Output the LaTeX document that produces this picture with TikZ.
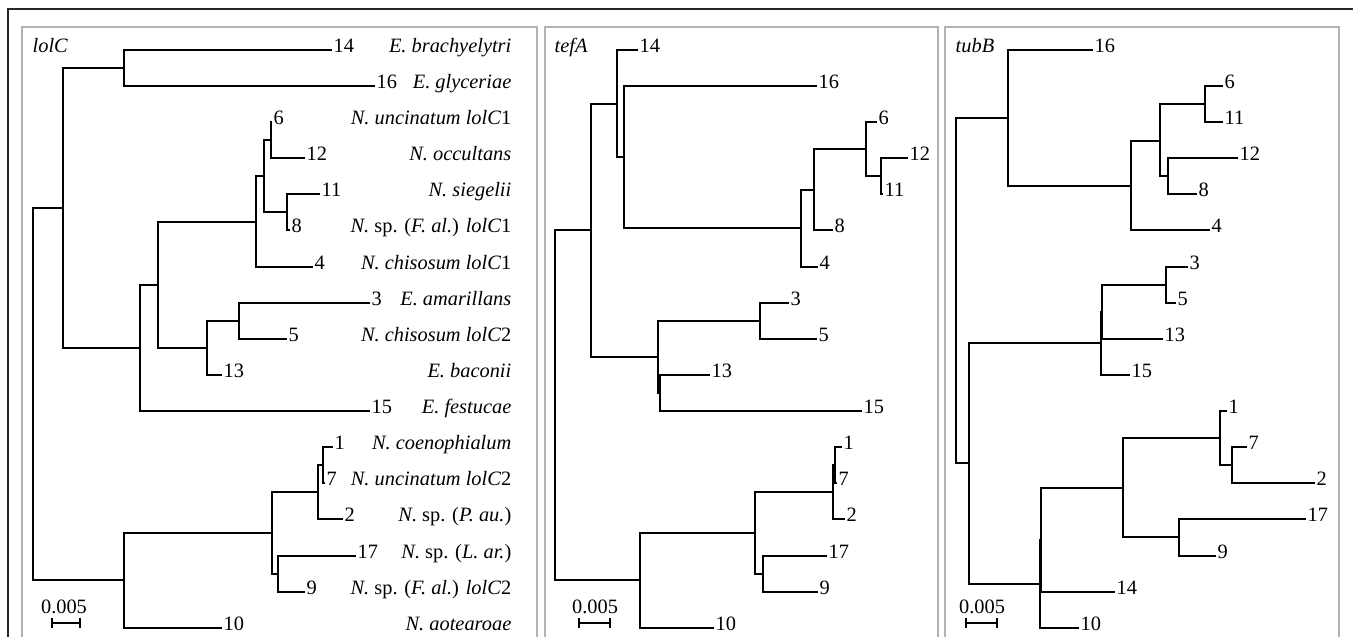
\documentclass[tikz,border=0pt]{standalone}
\usepackage{fontspec}
\setmainfont{Liberation Serif}
\usetikzlibrary{arrows.meta}
\tikzset{
  ramo/.style={line width=1.3pt},
  num/.style={anchor=west, inner sep=1pt, text height=0.68em, text depth=0.26em},
  especie/.style={anchor=east, inner sep=1pt, text height=0.68em, text depth=0.26em},
  titulo/.style={anchor=west, inner sep=1pt, text height=0.68em, text depth=0.26em},
  escala/.style={{Bar[width=7pt]}-{Bar[width=7pt]}, line width=1.2pt},
  rotulo/.style={anchor=base, inner sep=1pt},
  painel/.style={draw=gray!60, line width=1.1pt},
  moldura/.style={draw=black!85, line width=0.8pt},
}

\begin{document}
\begin{tikzpicture}[x=0.025cm, y=-0.025cm, font=\fontsize{14.5}{16}\selectfont]
  \useasboundingbox (0,0) rectangle (1353,637);
  % molduras
  \draw[moldura] (8,637) -- (8,9) -- (1353,9);
  \draw[painel] (22,637) -- (22,27) -- (537,27) -- (537,637);
  \draw[painel] (545,637) -- (545,27) -- (938,27) -- (938,637);
  \draw[painel] (945,637) -- (945,27) -- (1339,27) -- (1339,637);

  % ---- lolC ----
  \node[titulo] (tlol) at (31,50) {\textit{lolC}};
  \coordinate (lraiz) at (33,394);
  \coordinate (lA) at (63,208);
  \coordinate (lB) at (124,580);
  \coordinate (lC) at (124,68);
  \coordinate (lD) at (140,348);
  \coordinate (lE) at (158,285);
  \coordinate (lF) at (256,222);
  \coordinate (lG) at (264,176);
  \coordinate (lH) at (271,140);
  \coordinate (lI) at (287,212);
  \coordinate (lJ) at (207,348);
  \coordinate (lK) at (239,321);
  \coordinate (lL) at (272,533);
  \coordinate (lM) at (318,492);
  \coordinate (lN) at (323,465);
  \coordinate (lO) at (278,574);
  \node[num] (l14) at (332,50) {14};
  \node[num] (l16) at (375,86) {16};
  \node[num] (l6) at (272,122) {6};
  \node[num] (l12) at (305,158) {12};
  \node[num] (l11) at (320,194) {11};
  \node[num] (l8) at (290,230) {8};
  \node[num] (l4) at (313,267) {4};
  \node[num] (l3) at (370,303) {3};
  \node[num] (l5) at (287,339) {5};
  \node[num] (l13) at (222,375) {13};
  \node[num] (l15) at (370,411) {15};
  \node[num] (l1) at (333,447) {1};
  \node[num] (l7) at (325,483) {7};
  \node[num] (l2) at (343,519) {2};
  \node[num] (l17) at (356,556) {17};
  \node[num] (l9) at (305,592) {9};
  \node[num] (l10) at (222,628) {10};
  \draw[ramo] (lraiz) |- (lA); \draw[ramo] (lraiz) |- (lB);
  \draw[ramo] (lA) |- (lC); \draw[ramo] (lA) |- (lD);
  \draw[ramo] (lC) |- (l14); \draw[ramo] (lC) |- (l16);
  \draw[ramo] (lD) |- (lE); \draw[ramo] (lD) |- (l15);
  \draw[ramo] (lE) |- (lF); \draw[ramo] (lE) |- (lJ);
  \draw[ramo] (lF) |- (lG); \draw[ramo] (lF) |- (l4);
  \draw[ramo] (lG) |- (lH); \draw[ramo] (lG) |- (lI);
  \draw[ramo] (lH) |- (l6); \draw[ramo] (lH) |- (l12);
  \draw[ramo] (lI) |- (l11); \draw[ramo] (lI) |- (l8);
  \draw[ramo] (lJ) |- (lK); \draw[ramo] (lJ) |- (l13);
  \draw[ramo] (lK) |- (l3); \draw[ramo] (lK) |- (l5);
  \draw[ramo] (lB) |- (lL); \draw[ramo] (lB) |- (l10);
  \draw[ramo] (lL) |- (lM); \draw[ramo] (lL) |- (lO);
  \draw[ramo] (lM) |- (lN); \draw[ramo] (lM) |- (l2);
  \draw[ramo] (lN) |- (l1); \draw[ramo] (lN) |- (l7);
  \draw[ramo] (lO) |- (l17); \draw[ramo] (lO) |- (l9);
  % especies
  \node[especie] (e1) at (513,50) {\textit{E. brachyelytri}};
  \node[especie] (e2) at (513,86) {\textit{E. glyceriae}};
  \node[especie] (e3) at (513,122) {\textit{N. uncinatum lolC}1};
  \node[especie] (e4) at (513,158) {\textit{N. occultans}};
  \node[especie] (e5) at (513,194) {\textit{N. siegelii}};
  \node[especie] (e6) at (513,230) {\textit{N.} sp. (\textit{F. al.}) \textit{lolC}1};
  \node[especie] (e7) at (513,267) {\textit{N. chisosum lolC}1};
  \node[especie] (e8) at (513,303) {\textit{E. amarillans}};
  \node[especie] (e9) at (513,339) {\textit{N. chisosum lolC}2};
  \node[especie] (e10) at (513,375) {\textit{E. baconii}};
  \node[especie] (e11) at (513,411) {\textit{E. festucae}};
  \node[especie] (e12) at (513,447) {\textit{N. coenophialum}};
  \node[especie] (e13) at (513,483) {\textit{N. uncinatum lolC}2};
  \node[especie] (e14) at (513,519) {\textit{N.} sp. (\textit{P. au.})};
  \node[especie] (e15) at (513,556) {\textit{N.} sp. (\textit{L. ar.})};
  \node[especie] (e16) at (513,592) {\textit{N.} sp. (\textit{F. al.}) \textit{lolC}2};
  \node[especie] (e17) at (513,628) {\textit{N. aotearoae}};
  \coordinate (le1) at (51,623);
  \coordinate (le2) at (81,623);
  \draw[escala] (le1) -- (le2);
  \node[rotulo] (lesc) at (64,613) {0.005};

  % ---- tefA ----
  \node[titulo] (ttef) at (553,50) {\textit{tefA}};
  \coordinate (traiz) at (555,405);
  \coordinate (tA) at (591,230);
  \coordinate (tB) at (640,580);
  \coordinate (tC) at (617,104);
  \coordinate (tD) at (624,157);
  \coordinate (tE) at (801,228);
  \coordinate (tF) at (814,190);
  \coordinate (tG) at (866,149);
  \coordinate (tH) at (881,176);
  \coordinate (tI) at (658,357);
  \coordinate (tJ) at (660,393);
  \coordinate (tK) at (760,321);
  \coordinate (tL) at (755,533);
  \coordinate (tM) at (833,492);
  \coordinate (tN) at (835,465);
  \coordinate (tO) at (763,574);
  \node[num] (t14) at (638,50) {14};
  \node[num] (t16) at (817,86) {16};
  \node[num] (t6) at (877,122) {6};
  \node[num] (t12) at (908,158) {12};
  \node[num] (t11) at (883,194) {11};
  \node[num] (t8) at (833,230) {8};
  \node[num] (t4) at (818,267) {4};
  \node[num] (t3) at (789,303) {3};
  \node[num] (t5) at (817,339) {5};
  \node[num] (t13) at (710,375) {13};
  \node[num] (t15) at (862,411) {15};
  \node[num] (t1) at (842,447) {1};
  \node[num] (t7) at (837,483) {7};
  \node[num] (t2) at (845,519) {2};
  \node[num] (t17) at (827,556) {17};
  \node[num] (t9) at (818,592) {9};
  \node[num] (t10) at (714,628) {10};
  \draw[ramo] (traiz) |- (tA); \draw[ramo] (traiz) |- (tB);
  \draw[ramo] (tA) |- (tC); \draw[ramo] (tA) |- (tI);
  \draw[ramo] (tC) |- (t14); \draw[ramo] (tC) |- (tD);
  \draw[ramo] (tD) |- (t16); \draw[ramo] (tD) |- (tE);
  \draw[ramo] (tE) |- (tF); \draw[ramo] (tE) |- (t4);
  \draw[ramo] (tF) |- (tG); \draw[ramo] (tF) |- (t8);
  \draw[ramo] (tG) |- (t6); \draw[ramo] (tG) |- (tH);
  \draw[ramo] (tH) |- (t12); \draw[ramo] (tH) |- (t11);
  \draw[ramo] (tI) |- (tK); \draw[ramo] (tI) |- (tJ);
  \draw[ramo] (tK) |- (t3); \draw[ramo] (tK) |- (t5);
  \draw[ramo] (tJ) |- (t13); \draw[ramo] (tJ) |- (t15);
  \draw[ramo] (tB) |- (tL); \draw[ramo] (tB) |- (t10);
  \draw[ramo] (tL) |- (tM); \draw[ramo] (tL) |- (tO);
  \draw[ramo] (tM) |- (tN); \draw[ramo] (tM) |- (t2);
  \draw[ramo] (tN) |- (t1); \draw[ramo] (tN) |- (t7);
  \draw[ramo] (tO) |- (t17); \draw[ramo] (tO) |- (t9);
  \coordinate (te1) at (578,623);
  \coordinate (te2) at (611,623);
  \draw[escala] (te1) -- (te2);
  \node[rotulo] (tesc) at (595,613) {0.005};

  % ---- tubB ----
  \node[titulo] (ttub) at (954,50) {\textit{tubB}};
  \coordinate (uraiz) at (956,290);
  \coordinate (uA) at (1008,118);
  \coordinate (uB) at (969,463);
  \coordinate (uE) at (1131,186);
  \coordinate (uF) at (1160,141);
  \coordinate (uG) at (1205,104);
  \coordinate (uH) at (1168,176);
  \coordinate (uI) at (1101,343);
  \coordinate (uJ) at (1102,312);
  \coordinate (uK) at (1166,285);
  \coordinate (uP) at (1040,584);
  \coordinate (uQ) at (1041,540);
  \coordinate (uL) at (1123,488);
  \coordinate (uM) at (1220,438);
  \coordinate (uN) at (1232,465);
  \coordinate (uO) at (1179,537);
  \node[num] (u16) at (1093,50) {16};
  \node[num] (u6) at (1223,86) {6};
  \node[num] (u11) at (1223,122) {11};
  \node[num] (u12) at (1238,158) {12};
  \node[num] (u8) at (1197,194) {8};
  \node[num] (u4) at (1210,230) {4};
  \node[num] (u3) at (1188,267) {3};
  \node[num] (u5) at (1176,303) {5};
  \node[num] (u13) at (1163,339) {13};
  \node[num] (u15) at (1130,375) {15};
  \node[num] (u1) at (1227,411) {1};
  \node[num] (u7) at (1247,447) {7};
  \node[num] (u2) at (1315,483) {2};
  \node[num] (u17) at (1306,519) {17};
  \node[num] (u9) at (1216,556) {9};
  \node[num] (u14) at (1115,592) {14};
  \node[num] (u10) at (1079,628) {10};
  \draw[ramo] (uraiz) |- (uA); \draw[ramo] (uraiz) |- (uB);
  \draw[ramo] (uA) |- (u16); \draw[ramo] (uA) |- (uE);
  \draw[ramo] (uE) |- (uF); \draw[ramo] (uE) |- (u4);
  \draw[ramo] (uF) |- (uG); \draw[ramo] (uF) |- (uH);
  \draw[ramo] (uG) |- (u6); \draw[ramo] (uG) |- (u11);
  \draw[ramo] (uH) |- (u12); \draw[ramo] (uH) |- (u8);
  \draw[ramo] (uB) |- (uI); \draw[ramo] (uB) |- (uP);
  \draw[ramo] (uI) |- (uJ); \draw[ramo] (uI) |- (u15);
  \draw[ramo] (uJ) |- (uK); \draw[ramo] (uJ) |- (u13);
  \draw[ramo] (uK) |- (u3); \draw[ramo] (uK) |- (u5);
  \draw[ramo] (uP) |- (uQ); \draw[ramo] (uP) |- (u10);
  \draw[ramo] (uQ) |- (uL); \draw[ramo] (uQ) |- (u14);
  \draw[ramo] (uL) |- (uM); \draw[ramo] (uL) |- (uO);
  \draw[ramo] (uM) |- (u1); \draw[ramo] (uM) |- (uN);
  \draw[ramo] (uN) |- (u7); \draw[ramo] (uN) |- (u2);
  \draw[ramo] (uO) |- (u17); \draw[ramo] (uO) |- (u9);
  \coordinate (ue1) at (965,623);
  \coordinate (ue2) at (998,623);
  \draw[escala] (ue1) -- (ue2);
  \node[rotulo] (uesc) at (982,613) {0.005};
\end{tikzpicture}
\end{document}
